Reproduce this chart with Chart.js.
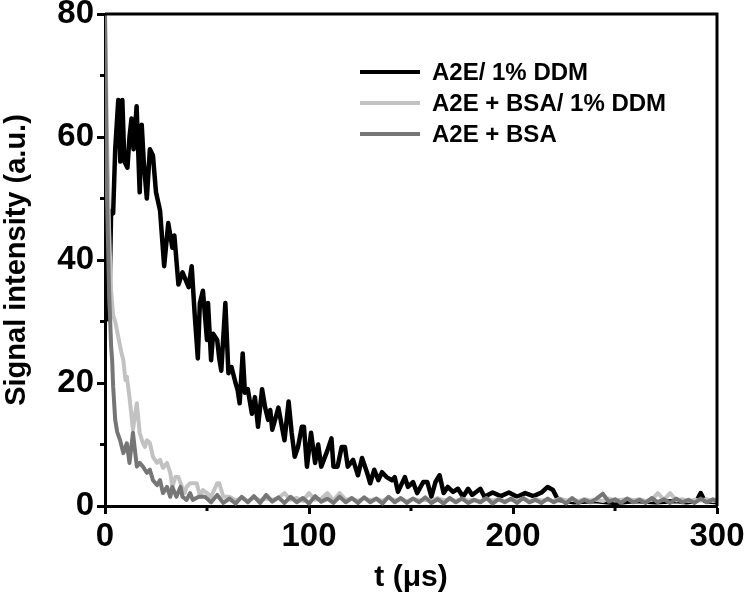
<!DOCTYPE html>
<html>
<head>
<meta charset="utf-8">
<script src="https://cdn.jsdelivr.net/npm/chart.js@4.4.1/dist/chart.umd.min.js"></script>
<style>
  html, body { margin: 0; padding: 0; background: #fff; }
</style>
</head>
<body>
<canvas id="chart" width="744" height="603"></canvas>
<script>
// series labels
const seriesNames = ['A2E/ 1% DDM', 'A2E + BSA/ 1% DDM', 'A2E + BSA'];

// A2E/ 1% DDM  (t in µs, signal in a.u.)
const blackT = [2, 3, 4, 5, 6.5, 7.5, 8.5, 9.5, 11, 12, 13, 14, 15.5, 17, 18, 19, 20.5, 22, 23.5, 25,
  27, 29, 31, 33, 34, 36, 38, 41, 42.5, 44, 45.5, 46.5, 48, 50, 50.5, 52, 53, 55, 56, 57,
  59, 60.5, 62, 64, 65, 66, 67.5, 68.6, 70, 72, 73.5, 75, 77, 78.5, 80, 81, 82, 85, 87, 88,
  90, 91.5, 93, 94.6, 96.5, 97.5, 99, 101, 103, 104.5, 106, 109, 111, 112, 114, 116, 117.6, 119, 121.6, 124,
  126, 128.4, 130, 132, 134, 135.8, 138, 140.7, 142, 143.6, 147, 148.5, 151, 153, 156, 158, 160, 162, 164, 166,
  168, 170.6, 173, 175.5, 178, 180, 184, 186, 190, 194, 198, 202, 206, 210, 214, 217, 219.6, 222, 230, 240,
  250, 260, 270, 280, 285, 290, 292, 294, 300];
const blackV = [30, 48, 47.6, 58, 66, 56, 66, 56, 55, 60, 63, 58, 65, 51, 62, 56, 50, 58, 57, 51,
  48, 39, 46, 42, 44, 36, 38, 35.6, 39, 31, 24, 33, 35, 27, 33, 23.7, 28, 27, 24, 22,
  33, 21.6, 22.6, 20, 18.9, 16.7, 24.8, 18.4, 19, 15, 17.7, 12.9, 19, 16, 14, 15.6, 12.4, 16, 12.4, 10.7,
  17, 11.9, 8, 9.6, 12.9, 12.9, 6.4, 11.9, 7, 10, 6.4, 9, 11, 6.4, 6.4, 9.6, 9.6, 6.4, 7.5, 5,
  7.8, 5.5, 3.7, 5.9, 4.2, 5.5, 4.7, 4.2, 4.7, 2.3, 4.7, 3.1, 3.9, 2.1, 3.9, 3.9, 1.5, 3.9, 5, 2.1,
  3.1, 2.3, 2.8, 1.5, 2.8, 1.8, 2.8, 1.5, 2.2, 1.6, 2.2, 1.5, 2.1, 1.6, 2.2, 3.1, 2.6, 1, 0.6, 0.8,
  0.5, 0.8, 0.6, 0.8, 0.6, 0.8, 2.1, 0.8, 0.6];

// A2E + BSA/ 1% DDM
const lightT = [0, 1, 2, 3, 4, 5, 6.5, 8, 9, 10, 10.7, 12, 13.7, 15.6, 17, 18.6, 19.6, 20.5, 22, 23.5,
  24.5, 25.5, 27, 28.4, 30.4, 31, 32, 33, 34.5, 36, 37.7, 39, 40, 41.7, 44, 45, 46.6, 48, 50, 52,
  55, 56, 58,
  61, 64, 67, 70, 73, 76, 79, 82, 85, 88,
  91, 94, 97, 100, 103, 106, 109, 112, 115, 118,
  121, 124, 127, 130, 133, 136, 139, 142, 145, 148,
  151, 154, 157, 160, 163, 166, 169, 172, 175, 178,
  181, 184, 187, 190, 193, 196, 199, 202, 205, 208,
  211, 214, 217, 220, 223, 226, 229, 232, 235, 238,
  241, 244, 247, 250, 253, 256, 259, 262, 265, 268,
  271, 274, 277, 280, 283, 286, 289, 292, 295, 298, 300];
const lightV = [80, 60, 45, 35, 31, 30, 27.5, 25, 23.7, 20.5, 21, 17.7, 12.4, 16.7, 11.9, 10.2, 9.6, 10.7, 10.2, 8,
  7.5, 7, 7.5, 6.2, 7, 6.4, 5.4, 3.1, 4.7, 4.7, 3.1, 2.1, 3.1, 3.7, 3.7, 3.7, 1.5, 2.6, 2.1, 1.5,
  3.7, 3.7, 1.5,
  1.5, 0.9, 1.3, 0.8, 1.4, 0.9, 1.2, 1.0, 1.3, 2.1,
  1.0, 1.3, 0.8, 2.1, 1.0, 1.2, 2.1, 0.9, 2.1, 1.0,
  1.2, 0.8, 1.3, 0.9, 1.2, 0.8, 1.4, 0.9, 1.1, 0.8,
  1.2, 0.9, 1.0, 0.8, 1.3, 0.9, 1.1, 0.8, 1.2, 0.9,
  1.0, 0.8, 1.2, 0.9, 1.1, 0.8, 1.0, 0.9, 1.2, 0.8,
  1.1, 0.9, 1.0, 0.8, 1.2, 0.9, 1.0, 0.8, 1.1, 0.9,
  1.0, 0.8, 1.2, 0.9, 1.0, 1.2, 0.9, 1.1, 0.8, 1.0,
  2.1, 1.0, 2.1, 0.9, 1.1, 0.8, 1.0, 0.9, 1.1, 0.8, 0.9];

// A2E + BSA
const darkT = [0, 1, 2, 3, 3.5, 4, 5, 6, 7.4, 9, 10.7, 12, 13.7, 15.6, 17, 18.6, 20.5, 22, 23.5, 25.5,
  27, 28.4, 30.4, 32, 33, 35, 37, 38, 40, 41.7, 43, 46,
  49, 52, 55, 58, 61, 64, 67, 70, 73, 76, 79, 82,
  85, 88, 91, 94, 97, 100, 103, 106, 109, 112, 115, 118,
  121, 124, 127, 130, 133, 136, 139, 142, 145, 148, 151, 154,
  157, 160, 163, 166, 169, 172, 175, 178, 181, 184, 187, 190,
  193, 196, 199, 202, 205, 208, 211, 214, 217, 220, 223, 226,
  229, 232, 235, 238, 241, 244, 247, 250, 253, 256, 259, 262,
  265, 268, 271, 274, 277, 280, 283, 286, 289, 292, 295, 298, 300];
const darkV = [80, 50, 35, 26, 23.7, 19.4, 14, 12, 10.7, 8.6, 10.2, 7, 11.9, 6.4, 7, 6.4, 5.4, 5.9, 4.2, 3.4,
  4.2, 2.1, 3.1, 1.5, 3.1, 1.5, 3.1, 1.5, 1, 2.1, 1, 1.5,
  1.5, 0.6, 1.8, 0.5, 1.2, 0.4, 1.5, 0.6, 1.6, 0.5, 1.8, 0.7,
  1.4, 0.5, 1.5, 0.6, 1.3, 0.4, 1.6, 0.7, 1.2, 0.5, 1.5, 0.6,
  1.3, 0.5, 1.4, 0.6, 1.2, 0.4, 1.5, 0.6, 1.3, 0.5, 1.2, 0.6,
  1.4, 0.5, 1.1, 0.4, 1.3, 0.6, 1.2, 0.5, 1.0, 0.6, 1.3, 0.4,
  1.1, 0.6, 1.2, 0.5, 1.3, 0.6, 1.0, 0.5, 1.2, 0.6, 1.1, 0.4,
  1.3, 0.5, 1.0, 0.6, 1.2, 2.0, 0.7, 1.1, 0.5, 1.2, 0.6, 1.0,
  0.5, 1.3, 0.6, 1.1, 0.5, 1.2, 0.6, 1.0, 0.5, 1.2, 0.6, 1.1, 0.8];

// axis ticks
const xMinorTicks = [50, 150, 250];
const yMinorTicks = [10, 30, 50, 70];

const colors = ['#000000', '#c2c2c2', '#767676'];
const FONT = "'Liberation Sans', Arial, sans-serif";

function pts(ts, vs) {
  return ts.map((t, i) => ({ x: t, y: vs[i] }));
}

// top/right frame, minor ticks and the in-plot legend
const extras = {
  id: 'extras',
  afterDraw(chart) {
    const ctx = chart.ctx;
    const a = chart.chartArea;
    const xs = chart.scales.x, ys = chart.scales.y;
    ctx.save();
    ctx.strokeStyle = '#000';
    ctx.lineWidth = 3;
    ctx.beginPath();
    ctx.moveTo(a.left, a.top);
    ctx.lineTo(a.right, a.top);
    ctx.lineTo(a.right, a.bottom);
    ctx.stroke();

    ctx.beginPath();
    xMinorTicks.forEach(v => {
      const px = xs.getPixelForValue(v);
      ctx.moveTo(px, a.bottom);
      ctx.lineTo(px, a.bottom + 5);
    });
    yMinorTicks.forEach(v => {
      const py = ys.getPixelForValue(v);
      ctx.moveTo(a.left, py);
      ctx.lineTo(a.left - 5, py);
    });
    ctx.stroke();

    // legend
    const lx = 360, tx = 432, rows = [72, 103, 134];
    ctx.font = 'bold 24px ' + FONT;
    ctx.textBaseline = 'middle';
    ctx.fillStyle = '#000';
    seriesNames.forEach((name, i) => {
      ctx.strokeStyle = colors[i];
      ctx.lineWidth = 4;
      ctx.beginPath();
      ctx.moveTo(lx, rows[i]);
      ctx.lineTo(lx + 60, rows[i]);
      ctx.stroke();
      ctx.fillText(name, tx, rows[i] + 1);
    });
    ctx.restore();
  }
};

const ctx = document.getElementById('chart').getContext('2d');
new Chart(ctx, {
  type: 'line',
  data: {
    datasets: [
      { label: seriesNames[0], data: pts(blackT, blackV), borderColor: colors[0], borderWidth: 4.5, order: 3 },
      { label: seriesNames[1], data: pts(lightT, lightV), borderColor: colors[1], borderWidth: 4, order: 2 },
      { label: seriesNames[2], data: pts(darkT, darkV), borderColor: colors[2], borderWidth: 4, order: 1 }
    ]
  },
  options: {
    responsive: false,
    animation: false,
    devicePixelRatio: 1,
    elements: { point: { radius: 0 }, line: { tension: 0, borderJoinStyle: 'round' } },
    layout: { padding: { left: 0, right: 27, top: 14, bottom: 0 } },
    plugins: { legend: { display: false }, tooltip: { enabled: false } },
    scales: {
      x: {
        type: 'linear',
        min: 0, max: 300,
        ticks: { stepSize: 100, color: '#000', padding: 3, font: { family: FONT, weight: 'bold', size: 33 } },
        grid: { drawOnChartArea: false, tickLength: 8, tickWidth: 3, tickColor: '#000' },
        border: { display: true, width: 3, color: '#000' },
        title: { display: true, text: 't (μs)', color: '#000', padding: { top: 0, bottom: 7 }, font: { family: FONT, weight: 'bold', size: 30 } },
        afterFit(s) { s.height = 97; s.paddingLeft = 0; s.paddingRight = 0; }
      },
      y: {
        min: 0, max: 80,
        ticks: { stepSize: 20, color: '#000', padding: 3, font: { family: FONT, weight: 'bold', size: 33 } },
        grid: { drawOnChartArea: false, tickLength: 8, tickWidth: 3, tickColor: '#000' },
        border: { display: true, width: 3, color: '#000' },
        title: { display: true, text: 'Signal intensity (a.u.)', color: '#000', padding: { top: 0, bottom: 0 }, font: { family: FONT, weight: 'bold', size: 29 } },
        afterFit(s) { s.width = 105; s.paddingTop = 0; s.paddingBottom = 0; }
      }
    }
  },
  plugins: [extras]
});
</script>
</body>
</html>
